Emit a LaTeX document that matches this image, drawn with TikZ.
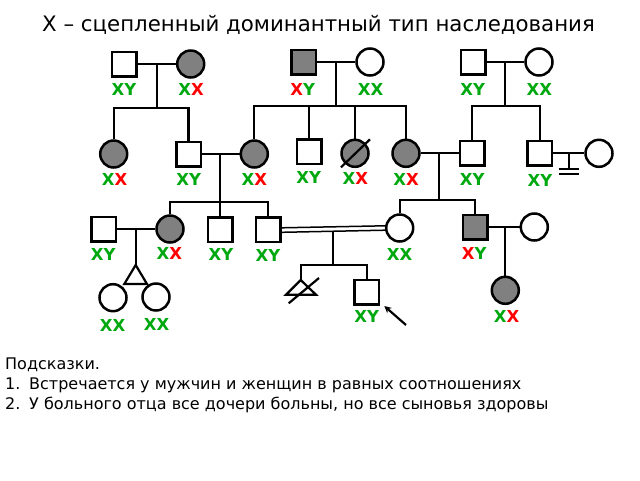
\documentclass[tikz,border=0pt]{standalone}
\usepackage{fontspec}
\setmainfont{DejaVu Sans}
\usetikzlibrary{arrows.meta,calc}
\definecolor{lgreen}{HTML}{00A80F}
\definecolor{lred}{HTML}{FF0000}
\definecolor{lfill}{HTML}{808080}
\newcommand{\gY}{\textcolor{lgreen}{XY}}
\newcommand{\gX}{\textcolor{lgreen}{XX}}
\newcommand{\rX}{\textcolor{lgreen}{X}\textcolor{lred}{X}}
\newcommand{\rY}{\textcolor{lred}{X}\textcolor{lgreen}{Y}}
\tikzset{
  x=1pt,y=-1pt,
  sqr/.style={draw,line width=2.5pt,fill=white,rectangle,minimum size=24.5pt,inner sep=0pt},
  sqrf/.style={sqr,fill=lfill},
  cir/.style={draw,line width=2.5pt,fill=white,circle,minimum size=27pt,inner sep=0pt},
  cirf/.style={cir,fill=lfill},
  lin/.style={line width=2.2pt,line cap=butt,line join=miter},
  dbl/.style={line width=1.5pt},
  gt/.style={font=\fontsize{16.5}{18}\selectfont\bfseries,inner sep=0pt},
  hint/.style={font=\fontsize{16}{18}\selectfont,inner sep=0pt,anchor=base west}
}
\begin{document}
\begin{tikzpicture}
\useasboundingbox (0,0) rectangle (640,480);
\node[inner sep=0pt,font=\fontsize{21.3}{24}\selectfont] (title) at (318.5,25) {Х – сцепленный доминантный тип наследования};
% generation I
\node[sqr] (a1) at (124,64) {};
\node[cirf] (a2) at (190.7,64) {};
\node[sqrf] (b1) at (303.7,62) {};
\node[cir] (b2) at (370,62) {};
\node[sqr] (c1) at (473,62) {};
\node[cir] (c2) at (539,62) {};
% generation II
\node[cirf] (d1) at (113.7,154) {};
\node[sqr] (d2) at (188.5,154) {};
\node[cirf] (e1) at (254.3,154) {};
\node[sqr] (e2) at (309,151.5) {};
\node[cirf] (e3) at (355,153.3) {};
\node[cirf] (e4) at (406,153.3) {};
\node[sqr] (f1) at (472.3,153.3) {};
\node[sqr] (f2) at (539.7,153.3) {};
\node[cir] (f3) at (599,153.3) {};
% generation III
\node[sqr] (g1) at (103.7,229) {};
\node[cirf] (g2) at (170,229) {};
\node[sqr] (h1) at (220,229.7) {};
\node[sqr] (h2) at (268.3,229.7) {};
\node[cir] (k1) at (399.7,228) {};
\node[sqrf] (k2) at (475,227) {};
\node[cir] (l1) at (534.3,227) {};
% generation IV
\node[sqr] (m1) at (366.7,292) {};
\node[cirf] (n1) at (505.3,290.3) {};
% junctions
\coordinate (ja) at (156.7,64);
\coordinate (jab) at (156.7,108);
\coordinate (jb) at (336,62);
\coordinate (jbb) at (336,106);
\coordinate (jc) at (505.3,62);
\coordinate (jcb) at (505.3,106);
\coordinate (jd) at (220,154);
\coordinate (jdb) at (220,201.7);
\coordinate (je) at (439,153.3);
\coordinate (jeb) at (439,199.7);
\coordinate (jf) at (568.7,153.3);
\coordinate (jfb) at (568.7,169);
\coordinate (ng1) at (558.7,169);
\coordinate (ng2) at (579,169);
\coordinate (ng3) at (558.7,174.3);
\coordinate (ng4) at (579,174.3);
\coordinate (jg) at (135.7,229);
\coordinate (tw) at (135.7,265);
\coordinate (twl) at (124.3,284);
\coordinate (twr) at (147,284);
\coordinate (jh) at (333.3,231);
\coordinate (jhb) at (333.3,265.3);
\coordinate (tra) at (300.7,280);
\coordinate (trl) at (286,294.7);
\coordinate (trr) at (316,294.7);
\coordinate (jk) at (505.3,227);
\coordinate (pa) at (406,325);
\coordinate (pb) at (384.3,306);
\coordinate (sa) at (288.7,303.3);
\coordinate (sb) at (319,278);
\coordinate (sc) at (341,167.3);
\coordinate (sd) at (370,139.3);
% connectors
\draw[lin] (a1) -- (a2);
\draw[lin] (ja) -- (jab);
\draw[lin] (d1.north) |- (jab) -| (d2.north);
\draw[lin] (b1) -- (b2);
\draw[lin] (jb) -- (jbb);
\draw[lin] (e1.north) |- (jbb) -| (e4.north);
\draw[lin] (jbb -| e2.north) -- (e2.north);
\draw[lin] (jbb -| e3.north) -- (e3.north);
\draw[lin] (c1) -- (c2);
\draw[lin] (jc) -- (jcb);
\draw[lin] (f1.north) |- (jcb) -| (f2.north);
\draw[lin] (d2) -- (e1);
\draw[lin] (jd) -- (jdb);
\draw[lin] (g2.north) |- (jdb) -| (h2.north);
\draw[lin] (jdb) -- (h1.north);
\draw[lin] (e4) -- (f1);
\draw[lin] (je) -- (jeb);
\draw[lin] (k1.north) |- (jeb) -| (k2.north);
\draw[lin] (f2) -- (f3);
\draw[lin] (jf) -- (jfb);
\draw[lin] (ng1) -- (ng2);
\draw[lin] (ng3) -- (ng4);
\draw[lin] (g1) -- (g2);
\draw[lin] (jg) -- (tw);
\draw[lin] (twl) -- (tw) -- (twr) -- cycle;
\node[cir] (t1) at (113,297.7) {};
\node[cir] (t2) at (156,297) {};
\draw[dbl] ($(h2.east)+(0,-1.9)$) -- ($(k1.west)+(0,-2.2)$);
\draw[dbl] ($(h2.east)+(0,2.6)$) -- ($(k1.west)+(0,2.2)$);
\draw[lin] (jh) -- (jhb);
\draw[lin] (tra) |- (jhb) -| (m1.north);
\draw[lin] (tra) -- (trl) -- (trr) -- cycle;
\draw[lin] (sa) -- (sb);
\draw[lin] (sc) -- (sd);
\draw[lin] (k2) -- (l1);
\draw[lin] (jk) -- (n1.north);
\draw[lin,-{Stealth[length=7pt,width=7pt]}] (pa) -- (pb);
% labels
\node[gt] (la1) at (124,89) {\gY};
\node[gt] (la2) at (191,89) {\rX};
\node[gt] (lb1) at (302.7,89) {\rY};
\node[gt] (lb2) at (370.7,89) {\gX};
\node[gt] (lc1) at (472.7,89) {\gY};
\node[gt] (lc2) at (539.3,89) {\gX};
\node[gt] (ld1) at (114.7,179.3) {\rX};
\node[gt] (ld2) at (188.7,179.7) {\gY};
\node[gt] (le1) at (254.3,179.7) {\rX};
\node[gt] (le2) at (308.7,177.7) {\gY};
\node[gt] (le3) at (355.3,178.3) {\rX};
\node[gt] (le4) at (406,179.3) {\rX};
\node[gt] (lf1) at (472.3,179.7) {\gY};
\node[gt] (lf2) at (540,180) {\gY};
\node[gt] (lg1) at (103.3,254) {\gY};
\node[gt] (lg2) at (169.3,253.3) {\rX};
\node[gt] (lh1) at (221,254) {\gY};
\node[gt] (lh2) at (268,255.7) {\gY};
\node[gt] (lk1) at (399.7,254) {\gX};
\node[gt] (lk2) at (474.3,253.3) {\rY};
\node[gt] (lt1) at (112.7,325) {\gX};
\node[gt] (lt2) at (156.7,324.3) {\gX};
\node[gt] (lm1) at (366.7,316.7) {\gY};
\node[gt] (ln1) at (506.7,316.7) {\rX};
% hints
\node[hint] (h0) at (5,369.5) {Подсказки.};
\node[hint] (h3) at (5,389.5) {1.};
\node[hint] (h4) at (29,389.5) {Встречается у мужчин и женщин в равных соотношениях};
\node[hint] (h5) at (5,409.5) {2.};
\node[hint] (h6) at (29,409.5) {У больного отца все дочери больны, но все сыновья здоровы};
\end{tikzpicture}
\end{document}
